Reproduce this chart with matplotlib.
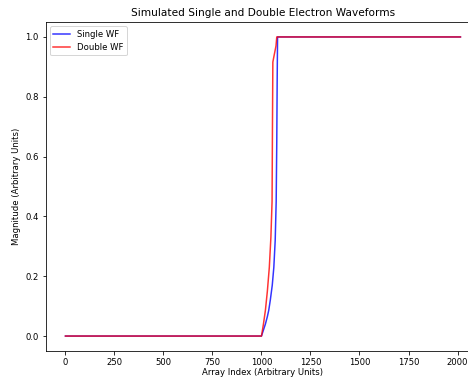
import matplotlib
matplotlib.use("Agg")
import matplotlib.pyplot as plt

# Puntos (índice, magnitud)
single_x = [0, 1000, 1010, 1020, 1030, 1037, 1045, 1055, 1063, 1070, 1075, 1078, 1080, 1082, 2015]
single_y = [0.0, 0.0, 0.02, 0.04, 0.065, 0.086, 0.12, 0.17, 0.23, 0.32, 0.45, 0.65, 0.85, 1.0, 1.0]

double_x = [0, 1000, 1010, 1020, 1030, 1040, 1048, 1054, 1056, 1058, 1062, 1068, 1074, 1078, 2015]
double_y = [0.0, 0.0, 0.04, 0.086, 0.15, 0.23, 0.33, 0.45, 0.70, 0.916, 0.93, 0.95, 0.97, 1.0, 1.0]

fig = plt.figure(figsize=(6.5, 5.25), dpi=72)
# el eje se sale por la derecha, como en la captura original
ax = fig.add_axes([45.7 / 468, 27 / 378, 434.5 / 468, 329 / 378])

ax.plot(single_x, single_y, color="blue", alpha=0.8, label="Single WF")
ax.plot(double_x, double_y, color="red", alpha=0.8, label="Double WF")

ax.set_title("Simulated Single and Double Electron Waveforms", fontsize=10.5)
ax.set_xlabel("Array Index (Arbitrary Units)", fontsize=8.5, labelpad=1)
ax.set_ylabel("Magnitude (Arbitrary Units)", fontsize=8.5)
ax.set_xticks([0, 250, 500, 750, 1000, 1250, 1500, 1750, 2000])
ax.set_yticks([0.0, 0.2, 0.4, 0.6, 0.8, 1.0])
ax.tick_params(labelsize=8.5)
ax.spines["right"].set_visible(False)
ax.legend(loc="upper left", fontsize=8.5)

fig.savefig("out.png", dpi=72)
